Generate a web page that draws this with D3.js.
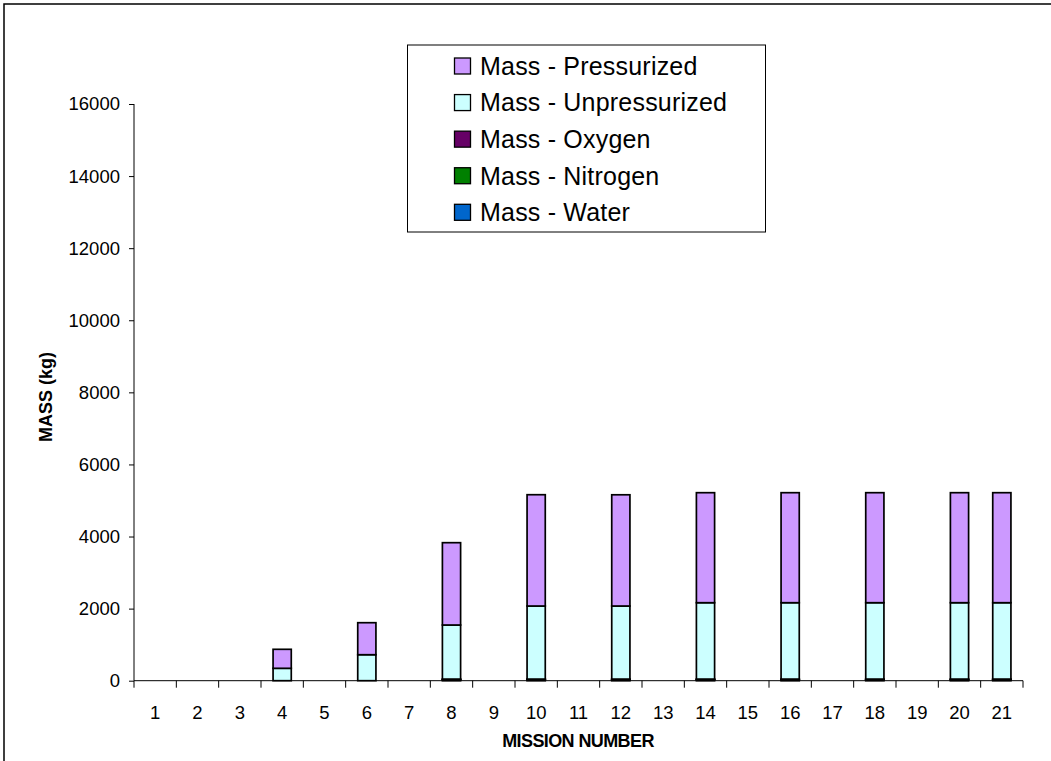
<!DOCTYPE html>
<html>
<head>
<meta charset="utf-8">
<script src="https://cdn.jsdelivr.net/npm/d3@7"></script>
<style>
  html, body { margin: 0; padding: 0; background: #fff; }
  svg { display: block; font-family: "Liberation Sans", Arial, sans-serif; }
</style>
</head>
<body>
<svg id="chart" width="1051" height="761"></svg>
<script>
// ---- data ----
const missions = ["1","2","3","4","5","6","7","8","9","10","11","12","13","14","15","16","17","18","19","20","21"];
const massWater          = [0,0,0,0,0,0,0,25,0,25,0,25,0,25,0,25,0,25,0,25,25];
const massNitrogen       = [0,0,0,0,0,0,0,8,0,8,0,8,0,8,0,8,0,8,0,8,8];
const massOxygen         = [0,0,0,0,0,0,0,12,0,12,0,12,0,12,0,12,0,12,0,12,12];
const massUnpressurized  = [0,0,0,344,0,721,0,1500,0,2027,0,2027,0,2119,0,2119,0,2119,0,2119,2119];
const massPressurized    = [0,0,0,527,0,888,0,2284,0,3088,0,3086,0,3052,0,3052,0,3052,0,3052,3052];
const yTicks = [0,2000,4000,6000,8000,10000,12000,14000,16000];

const seriesNames  = ["Mass - Water","Mass - Nitrogen","Mass - Oxygen","Mass - Unpressurized","Mass - Pressurized"];
const seriesValues = [massWater, massNitrogen, massOxygen, massUnpressurized, massPressurized];
const seriesColors = ["#0066CC","#008000","#660066","#CCFFFF","#CC99FF"];

// ---- build table ----
const rows = missions.map((m, i) => {
  const r = { mission: m };
  seriesNames.forEach((s, j) => r[s] = seriesValues[j][i]);
  return r;
});
const stack = d3.stack().keys(seriesNames)(rows);

const svg = d3.select("#chart");

// outer frame
svg.append("rect").attr("x", 4).attr("y", 4).attr("width", 1200).attr("height", 900)
  .attr("fill", "none").attr("stroke", "#000").attr("stroke-width", 1.5);

const x = d3.scaleBand().domain(missions).range([134, 1023]).padding(0);
const y = d3.scaleLinear().domain([0, 16000]).range([680.7, 104]);

const barFrac = 0.43;
const bw = x.bandwidth() * barFrac;

// bars
const g = svg.append("g");
stack.forEach((layer, j) => {
  g.selectAll(null).data(layer.filter(d => d[1] - d[0] > 0)).enter().append("rect")
    .attr("x", d => x(d.data.mission) + (x.bandwidth() - bw) / 2)
    .attr("y", d => y(d[1]))
    .attr("width", bw)
    .attr("height", d => y(d[0]) - y(d[1]))
    .attr("fill", seriesColors[j])
    .attr("stroke", "#000")
    .attr("stroke-width", 1.7);
});

// y axis
const yAxis = d3.axisLeft(y).tickValues(yTicks).tickSize(5).tickPadding(9).tickFormat(d3.format("d"));
const gy = svg.append("g").attr("transform", "translate(134,0)").call(yAxis);
gy.select(".domain").attr("d", `M0,${y(16000)}V${y(0)}`).attr("stroke", "#000");
gy.selectAll("text").attr("font-size", 18.5).attr("fill", "#000")
  .attr("font-family", "'Liberation Sans', Arial, sans-serif");

// x axis
const gx = svg.append("g").attr("transform", `translate(0,${y(0)})`);
gx.append("line").attr("x1", 134).attr("x2", 1023).attr("y1", 0).attr("y2", 0).attr("stroke", "#000");
const boundaries = missions.map(m => x(m)).concat([x(missions[missions.length - 1]) + x.bandwidth()]);
gx.selectAll("line.tick").data(boundaries).enter().append("line")
  .attr("class", "tick")
  .attr("x1", d => d).attr("x2", d => d).attr("y1", 0).attr("y2", 7)
  .attr("stroke", "#000");
gx.selectAll("text").data(missions).enter().append("text")
  .attr("x", d => x(d) + x.bandwidth() / 2)
  .attr("y", 38.5)
  .attr("text-anchor", "middle")
  .attr("font-size", 18.5)
  .text(d => d);

// axis titles
svg.append("text").attr("x", 578).attr("y", 746.5).attr("text-anchor", "middle")
  .attr("font-size", 18).attr("font-weight", "bold").attr("letter-spacing", -0.6)
  .text("MISSION NUMBER");
svg.append("text").attr("transform", "translate(52,397) rotate(-90)").attr("text-anchor", "middle")
  .attr("font-size", 18).attr("font-weight", "bold")
  .text("MASS (kg)");

// legend
const legend = svg.append("g");
legend.append("rect").attr("x", 407.5).attr("y", 45).attr("width", 358).attr("height", 187)
  .attr("fill", "#fff").attr("stroke", "#000").attr("stroke-width", 1);
const legendOrder = [4, 3, 2, 1, 0];
const rowY = d3.scalePoint().domain(legendOrder).range([66, 212.3]);
legendOrder.forEach(j => {
  const cy = rowY(j);
  legend.append("rect").attr("x", 454.5).attr("y", cy - 8).attr("width", 16).attr("height", 16)
    .attr("fill", seriesColors[j]).attr("stroke", "#000").attr("stroke-width", 1.3);
  legend.append("text").attr("x", 480).attr("y", cy + 8.8)
    .attr("font-size", 25).attr("letter-spacing", 0.2)
    .text(seriesNames[j]);
});
</script>
</body>
</html>
